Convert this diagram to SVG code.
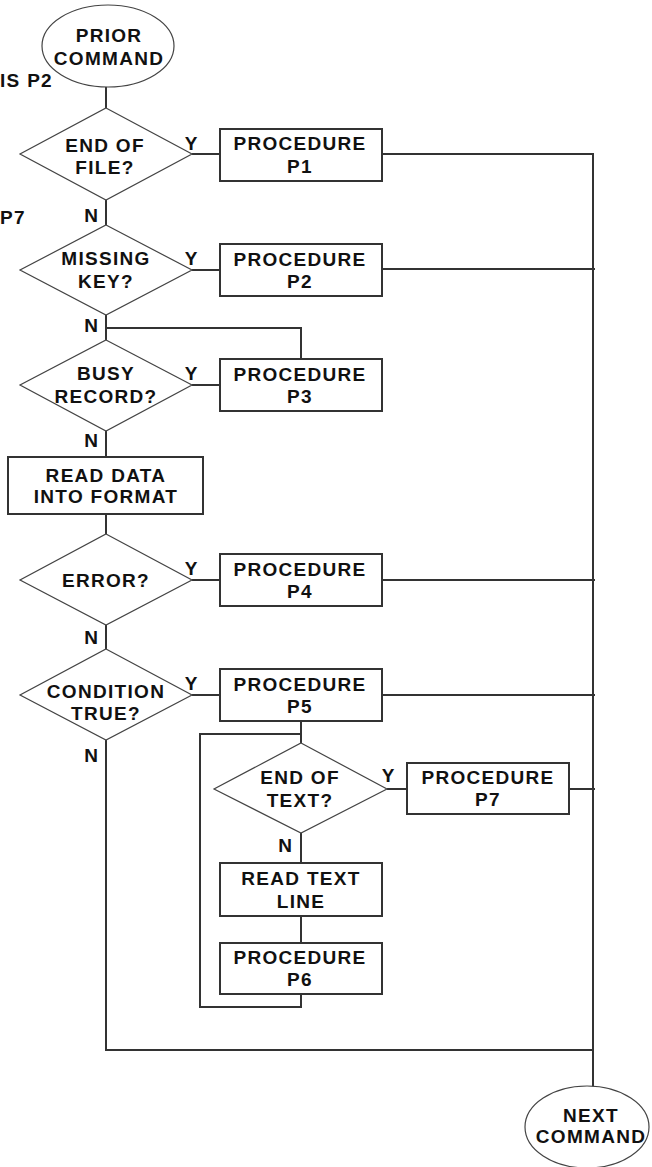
<svg xmlns="http://www.w3.org/2000/svg" width="652" height="1167" viewBox="0 0 652 1167">
<style>
text{font-family:"Liberation Sans",Arial,sans-serif;font-weight:bold;font-size:19px;letter-spacing:1.3px;fill:#111;text-anchor:middle}
.lbl{letter-spacing:0}
.box{fill:#fff;stroke:#333;stroke-width:2}
.dia{fill:#fff;stroke:#444;stroke-width:1.2}
.ell{fill:#fff;stroke:#444;stroke-width:1.2}
.wire{fill:none;stroke:#333;stroke-width:2}
</style>
<rect width="652" height="1167" fill="#fff"/>
<g id="connectors">
<path class="wire" d="M106,87 V108"/>
<path class="wire" d="M106,200 V225"/>
<path class="wire" d="M106,315 V340"/>
<path class="wire" d="M106,328 H301 V359"/>
<path class="wire" d="M106,431 V457"/>
<path class="wire" d="M106,514 V534"/>
<path class="wire" d="M106,625 V649"/>
<path class="wire" d="M106,740 V1050 H593"/>
<path class="wire" d="M192,154 H220"/>
<path class="wire" d="M192,270 H220"/>
<path class="wire" d="M192,385 H220"/>
<path class="wire" d="M192,580 H220"/>
<path class="wire" d="M192,695 H220"/>
<path class="wire" d="M382,154 H593 V1087"/>
<path class="wire" d="M382,269 H595"/>
<path class="wire" d="M382,580 H595"/>
<path class="wire" d="M382,695 H595"/>
<path class="wire" d="M569,789 H595"/>
<path class="wire" d="M387,789 H407"/>
<path class="wire" d="M301,721 V743"/>
<path class="wire" d="M301,734 H200 V1007 H301 V994"/>
<path class="wire" d="M301,833 V863"/>
<path class="wire" d="M301,916 V943"/>
</g>
<g id="prior-command">
<ellipse class="ell" cx="108" cy="46" rx="66" ry="41"/>
<text x="109" y="42">PRIOR</text>
<text x="109" y="65">COMMAND</text>
</g>
<g id="side-notes">
<text x="0" y="87" style="text-anchor:start">IS P2</text>
<text x="0" y="224" style="text-anchor:start">P7</text>
</g>
<g id="end-of-file">
<polygon class="dia" points="106,108 192,154 106,200 20,154"/>
<text x="105" y="152">END OF</text>
<text x="105" y="174">FILE?</text>
<text class="lbl" x="191" y="150">Y</text>
<text class="lbl" x="91" y="222">N</text>
</g>
<g id="p1">
<rect class="box" x="220" y="129" width="162" height="52"/>
<text x="300" y="150">PROCEDURE</text>
<text x="300" y="173">P1</text>
</g>
<g id="missing-key">
<polygon class="dia" points="106,225 192,270 106,315 20,270"/>
<text x="106" y="265">MISSING</text>
<text x="106" y="288">KEY?</text>
<text class="lbl" x="191" y="265">Y</text>
<text class="lbl" x="91" y="332">N</text>
</g>
<g id="p2">
<rect class="box" x="220" y="244" width="162" height="52"/>
<text x="300" y="266">PROCEDURE</text>
<text x="300" y="288">P2</text>
</g>
<g id="busy-record">
<polygon class="dia" points="106,340 192,385 106,431 20,385"/>
<text x="106" y="380">BUSY</text>
<text x="106" y="403">RECORD?</text>
<text class="lbl" x="191" y="380">Y</text>
<text class="lbl" x="91" y="447">N</text>
</g>
<g id="p3">
<rect class="box" x="220" y="359" width="162" height="52"/>
<text x="300" y="381">PROCEDURE</text>
<text x="300" y="403">P3</text>
</g>
<g id="read-data">
<rect class="box" x="8" y="457" width="195" height="57"/>
<text x="106" y="482">READ DATA</text>
<text x="106" y="503">INTO FORMAT</text>
</g>
<g id="error">
<polygon class="dia" points="106,534 192,580 106,625 20,580"/>
<text x="106" y="587">ERROR?</text>
<text class="lbl" x="191" y="575">Y</text>
<text class="lbl" x="91" y="644">N</text>
</g>
<g id="p4">
<rect class="box" x="220" y="554" width="162" height="52"/>
<text x="300" y="576">PROCEDURE</text>
<text x="300" y="598">P4</text>
</g>
<g id="condition">
<polygon class="dia" points="106,649 192,695 106,740 20,695"/>
<text x="106" y="698">CONDITION</text>
<text x="106" y="720">TRUE?</text>
<text class="lbl" x="191" y="690">Y</text>
<text class="lbl" x="91" y="762">N</text>
</g>
<g id="p5">
<rect class="box" x="220" y="669" width="162" height="52"/>
<text x="300" y="691">PROCEDURE</text>
<text x="300" y="713">P5</text>
</g>
<g id="end-of-text">
<polygon class="dia" points="301,743 387,789 301,833 214,789"/>
<text x="300" y="784">END OF</text>
<text x="300" y="807">TEXT?</text>
<text class="lbl" x="388" y="782">Y</text>
<text class="lbl" x="285" y="852">N</text>
</g>
<g id="p7">
<rect class="box" x="407" y="763" width="162" height="51"/>
<text x="488" y="784">PROCEDURE</text>
<text x="488" y="806">P7</text>
</g>
<g id="read-text">
<rect class="box" x="220" y="863" width="162" height="53"/>
<text x="301" y="885">READ TEXT</text>
<text x="301" y="908">LINE</text>
</g>
<g id="p6">
<rect class="box" x="220" y="943" width="162" height="51"/>
<text x="300" y="964">PROCEDURE</text>
<text x="300" y="986">P6</text>
</g>
<g id="next-command">
<ellipse class="ell" cx="587" cy="1127" rx="62" ry="41"/>
<text x="591" y="1122">NEXT</text>
<text x="591" y="1143">COMMAND</text>
</g>
</svg>
